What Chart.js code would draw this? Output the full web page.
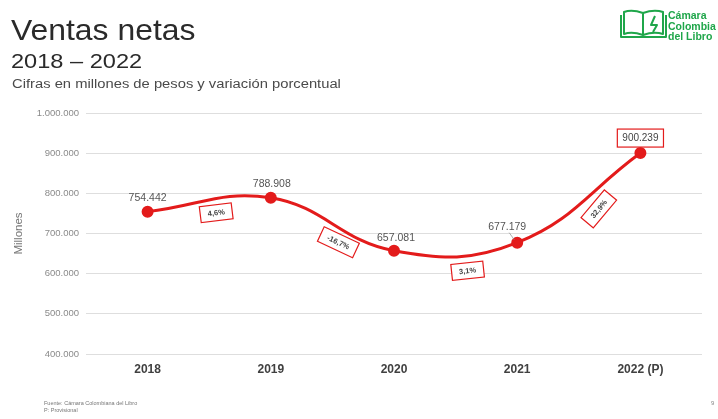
<!DOCTYPE html>
<html>
<head>
<meta charset="utf-8">
<script src="https://cdn.jsdelivr.net/npm/chart.js@4.4.1/dist/chart.umd.min.js"></script>
<style>
  html, body { margin: 0; padding: 0; background: #fff; }
  #wrap { position: relative; width: 718px; height: 419px; overflow: hidden;
          font-family: "Liberation Sans", Arial, sans-serif; }
  #c { position: absolute; left: 0; top: 0; }
  .t { position: absolute; white-space: nowrap; transform-origin: 0 0; }
  .logo { color: #1fa64a; font-weight: bold; font-size: 10.5px; line-height: 10.5px; }
</style>
</head>
<body>
<div id="wrap">
  <canvas id="c" width="718" height="419"></canvas>

  <div class="t" style="left:11px;top:14px;font-size:29px;line-height:32px;transform:scaleX(1.1);color:#2a2a2a;">Ventas netas</div>
  <div class="t" style="left:11px;top:49px;font-size:20.5px;line-height:24px;transform:scaleX(1.15);color:#2a2a2a;">2018 – 2022</div>
  <div class="t" style="left:12px;top:77px;font-size:12.3px;line-height:14px;transform:scaleX(1.2);color:#4a4a4a;">Cifras en millones de pesos y variación porcentual</div>

  <svg style="position:absolute;left:620px;top:4px;" width="50" height="36" viewBox="0 0 50 36">
    <g fill="none" stroke="#1fa64a" stroke-width="2" stroke-linejoin="round">
      <path d="M4 8 Q12 5 23 9 L23 31 Q12 27 4 30 Z"/>
      <path d="M23 9 Q34 5 43 8 L43 30 Q34 27 23 31"/>
      <path d="M1 11 L1 33 L46 33 L46 11"/>
      <path d="M35 12 L31 21 L37 21 L33 28"/>
    </g>
  </svg>
  <div class="t logo" style="left:668px;top:10px;">Cámara<br>Colombia<br>del Libro</div>

  <div class="t" style="left:44px;top:400px;font-size:5.5px;line-height:7px;color:#777;">Fuente: Cámara Colombiana del Libro<br>P: Provisional</div>
  <div class="t" style="left:711px;top:400px;font-size:6px;line-height:7px;color:#888;">9</div>
</div>

<script>
// Ventas netas del sector editorial, millones de pesos
const years = ['2018', '2019', '2020', '2021', '2022 (P)'];
const netSales = [754442, 788908, 657081, 677179, 900239];
// Variación porcentual entre años consecutivos
const yearlyChange = ['4,6%', '-16,7%', '3,1%', '32,9%'];
// Marcas del eje vertical
const yMin = 400000;
const yMax = 1000000;
const yStep = 100000;

const RED = '#e31b1b';

function fmtThousands(v) {
  return String(Math.round(v)).replace(/\B(?=(\d{3})+(?!\d))/g, '.');
}

function boxedText(ctx, text, x, y, angleDeg, opts) {
  ctx.save();
  ctx.translate(x, y);
  ctx.rotate(angleDeg * Math.PI / 180);
  ctx.font = opts.font;
  const w = ctx.measureText(text).width + opts.padX * 2;
  const h = opts.h;
  ctx.fillStyle = '#fff';
  ctx.fillRect(-w / 2, -h / 2, w, h);
  ctx.strokeStyle = opts.stroke;
  ctx.lineWidth = 1.2;
  ctx.strokeRect(-w / 2, -h / 2, w, h);
  ctx.fillStyle = opts.color;
  ctx.textAlign = 'center';
  ctx.textBaseline = 'middle';
  ctx.fillText(text, 0, 0.5);
  ctx.restore();
}

// Etiquetas de valor sobre cada punto y recuadros de variación en cada tramo
const labelPlugin = {
  id: 'salesLabels',
  afterDatasetsDraw(chart) {
    const ctx = chart.ctx;
    const pts = chart.getDatasetMeta(0).data;
    const valueOffsets = [[0, -14], [1, -14], [2, -13], [-10, -16], [0, -15]];
    ctx.save();
    pts.forEach((p, i) => {
      const txt = fmtThousands(netSales[i]);
      const lx = p.x + valueOffsets[i][0];
      const ly = p.y + valueOffsets[i][1];
      if (i === pts.length - 1) {
        boxedText(ctx, txt, lx, ly, 0, {
          font: '10px "Liberation Sans", Arial, sans-serif',
          padX: 5, h: 18, stroke: RED, color: '#444'
        });
        return;
      }
      if (i === 3) {
        ctx.strokeStyle = '#999';
        ctx.lineWidth = 0.8;
        ctx.beginPath();
        ctx.moveTo(lx + 2, ly + 6);
        ctx.lineTo(p.x - 3, p.y - 3);
        ctx.stroke();
      }
      ctx.font = '10.5px "Liberation Sans", Arial, sans-serif';
      ctx.fillStyle = '#555';
      ctx.textAlign = 'center';
      ctx.textBaseline = 'middle';
      ctx.fillText(txt, lx, ly);
    });

    // dx, dy desde el punto medio del tramo y giro del recuadro
    const changeOffsets = [[7, 8, -7], [6, 18, 25], [12, 24, -6], [20, 11, -50]];
    yearlyChange.forEach((txt, i) => {
      const a = pts[i], b = pts[i + 1];
      const mx = (a.x + b.x) / 2 + changeOffsets[i][0];
      const my = (a.y + b.y) / 2 + changeOffsets[i][1];
      boxedText(ctx, txt, mx, my, changeOffsets[i][2], {
        font: 'bold 7.5px "Liberation Sans", Arial, sans-serif',
        padX: 7.5, h: 16, stroke: RED, color: '#444'
      });
    });
    ctx.restore();
  }
};

new Chart(document.getElementById('c'), {
  type: 'line',
  data: {
    labels: years,
    datasets: [{
      data: netSales,
      borderColor: RED,
      backgroundColor: RED,
      borderWidth: 3,
      pointRadius: 4.5,
      pointBackgroundColor: RED,
      pointBorderColor: RED,
      tension: 0.42,
      fill: false
    }]
  },
  options: {
    responsive: false,
    animation: false,
    devicePixelRatio: 1,
    layout: { padding: { left: 0, right: 16, top: 113, bottom: 35 } },
    plugins: {
      legend: { display: false },
      tooltip: { enabled: false }
    },
    scales: {
      x: {
        type: 'category',
        offset: true,
        grid: { display: false, drawTicks: false },
        border: { display: false },
        ticks: {
          color: '#404040',
          padding: 8,
          font: { family: 'Liberation Sans', size: 12, weight: 'bold' }
        },
        afterFit(scale) { scale.height = 30; }
      },
      y: {
        min: yMin,
        max: yMax,
        grid: { color: '#dedede', lineWidth: 1, drawTicks: false },
        border: { display: false },
        ticks: {
          stepSize: yStep,
          color: '#8a8a8a',
          padding: 7,
          font: { family: 'Liberation Sans', size: 9.5 },
          callback: v => fmtThousands(v)
        },
        title: {
          display: true,
          text: 'Millones',
          color: '#777',
          padding: { top: 12 },
          font: { family: 'Liberation Sans', size: 11.5 }
        },
        afterFit(scale) { scale.width = 86; }
      }
    }
  },
  plugins: [labelPlugin]
});
</script>
</body>
</html>
